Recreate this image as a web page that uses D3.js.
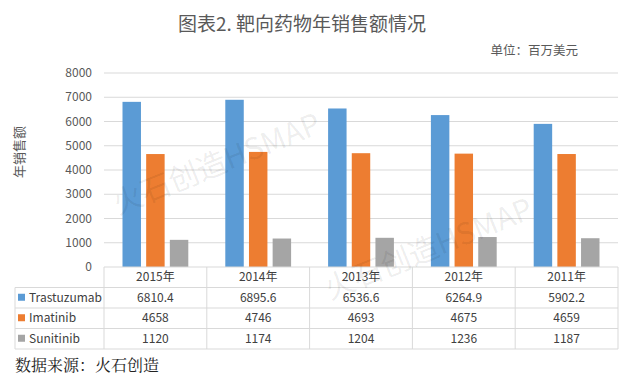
<!DOCTYPE html>
<html>
<head>
<meta charset="utf-8">
<script src="https://cdn.jsdelivr.net/npm/d3@7"></script>
<style>
  body { margin: 0; background: #fff; }
  text { font-family: "Noto Sans CJK SC", "Noto Sans", sans-serif; }
</style>
</head>
<body>
<div id="canvas"></div>
<script>
"use strict"

/* chart data */
let years = ["2015年", "2014年", "2013年", "2012年", "2011年"];
let seriesNames = ["Trastuzumab", "Imatinib", "Sunitinib"];
let trastuzumab = [6810.4, 6895.6, 6536.6, 6264.9, 5902.2];
let imatinib = [4658, 4746, 4693, 4675, 4659];
let sunitinib = [1120, 1174, 1204, 1236, 1187];
let tableLabels = [["6810.4", "6895.6", "6536.6", "6264.9", "5902.2"],
                   ["4658", "4746", "4693", "4675", "4659"],
                   ["1120", "1174", "1204", "1236", "1187"]];
let yTicks = [0, 1000, 2000, 3000, 4000, 5000, 6000, 7000, 8000];

let colors = ["#5B9BD5", "#ED7D31", "#A5A5A5"];
let seriesValues = [trastuzumab, imatinib, sunitinib];

/* canvas size and plot box */
let svgWidth = 640;
let svgHeight = 385;
let plotLeft = 104;
let plotRight = 618;
let plotTop = 73;
let plotBottom = 267;
let rowHeight = 20.5;
let tableLeft = 15;

let svg = d3.select("#canvas")
    .append("svg")
    .attr("width", svgWidth)
    .attr("height", svgHeight);

svg.append("rect")
    .attr("width", svgWidth)
    .attr("height", svgHeight)
    .attr("fill", "#fff");

/* scales */
let xScale = d3.scaleBand()
    .domain(years)
    .range([plotLeft, plotRight]);

let inner = d3.scaleBand()
    .domain(seriesNames)
    .range([18.5, xScale.bandwidth() - 18.5])
    .paddingInner(0.22);

let yScale = d3.scaleLinear()
    .domain([0, 8000])
    .range([plotBottom, plotTop]);

/* gridlines */
svg.append("g")
    .selectAll("line")
    .data(yTicks.slice(1))
    .join("line")
    .attr("x1", plotLeft)
    .attr("x2", plotRight)
    .attr("y1", d => yScale(d))
    .attr("y2", d => yScale(d))
    .attr("stroke", "#d9d9d9")
    .attr("stroke-width", 1);

/* y tick labels */
svg.append("g")
    .selectAll("text")
    .data(yTicks)
    .join("text")
    .attr("x", 92)
    .attr("y", d => yScale(d))
    .attr("dy", "0.35em")
    .attr("text-anchor", "end")
    .attr("font-size", 12)
    .attr("fill", "#595959")
    .text(d => d);

/* bars */
seriesNames.forEach(function (name, s) {
    svg.append("g")
        .selectAll("rect")
        .data(seriesValues[s])
        .join("rect")
        .attr("x", (d, i) => xScale(years[i]) + inner(name))
        .attr("y", d => yScale(d))
        .attr("width", inner.bandwidth())
        .attr("height", d => plotBottom - yScale(d))
        .attr("fill", colors[s]);
});

/* data table */
let tableBottom = plotBottom + rowHeight * 4;
let grid = svg.append("g")
    .attr("stroke", "#d9d9d9")
    .attr("stroke-width", 1)
    .attr("fill", "none");

// horizontal lines
for (let r = 0; r <= 4; r++) {
    grid.append("line")
        .attr("x1", r === 0 ? plotLeft : tableLeft)
        .attr("x2", plotRight)
        .attr("y1", plotBottom + r * rowHeight)
        .attr("y2", plotBottom + r * rowHeight);
}
// vertical lines
years.forEach(function (y) {
    grid.append("line")
        .attr("x1", xScale(y))
        .attr("x2", xScale(y))
        .attr("y1", plotBottom)
        .attr("y2", tableBottom);
});
grid.append("line")
    .attr("x1", plotRight).attr("x2", plotRight)
    .attr("y1", plotBottom).attr("y2", tableBottom);
grid.append("line")
    .attr("x1", tableLeft).attr("x2", tableLeft)
    .attr("y1", plotBottom + rowHeight).attr("y2", tableBottom);

// year header
svg.append("g")
    .selectAll("text")
    .data(years)
    .join("text")
    .attr("x", d => xScale(d) + xScale.bandwidth() / 2)
    .attr("y", plotBottom + rowHeight / 2)
    .attr("dy", "0.35em")
    .attr("text-anchor", "middle")
    .attr("font-size", 12)
    .attr("fill", "#404040")
    .text(d => d);

// series rows
seriesNames.forEach(function (name, s) {
    let rowY = plotBottom + rowHeight * (s + 1) + rowHeight / 2;

    svg.append("rect")
        .attr("x", 18)
        .attr("y", rowY - 4)
        .attr("width", 7)
        .attr("height", 7)
        .attr("fill", colors[s]);

    svg.append("text")
        .attr("x", 29)
        .attr("y", rowY)
        .attr("dy", "0.35em")
        .attr("font-size", 12)
        .attr("fill", "#404040")
        .text(name);

    svg.append("g")
        .selectAll("text")
        .data(tableLabels[s])
        .join("text")
        .attr("x", (d, i) => xScale(years[i]) + xScale.bandwidth() / 2)
        .attr("y", rowY)
        .attr("dy", "0.35em")
        .attr("text-anchor", "middle")
        .attr("font-size", 12)
        .attr("fill", "#404040")
        .text(d => d);
});

/* titles */
svg.append("text")
    .attr("x", 302)
    .attr("y", 31)
    .attr("text-anchor", "middle")
    .attr("font-size", 19)
    .attr("fill", "#595959")
    .text("图表2. 靶向药物年销售额情况");

svg.append("text")
    .attr("x", 578)
    .attr("y", 55)
    .attr("text-anchor", "end")
    .attr("font-size", 12.5)
    .attr("fill", "#595959")
    .text("单位：百万美元");

svg.append("text")
    .attr("transform", "translate(24,152) rotate(-90)")
    .attr("text-anchor", "middle")
    .attr("font-size", 13)
    .attr("fill", "#595959")
    .text("年销售额");

svg.append("text")
    .attr("x", 15)
    .attr("y", 371)
    .attr("font-size", 16)
    .attr("fill", "#222")
    .attr("style", "font-family: 'AR PL UKai CN', 'Noto Serif CJK SC', 'Noto Sans CJK SC', serif")
    .text("数据来源：火石创造");

/* faint watermark */
svg.append("text")
    .attr("transform", "translate(118,215) rotate(-22)")
    .attr("font-size", 30)
    .attr("fill", "#000")
    .attr("fill-opacity", 0.08)
    .text("火石创造HSMAP");

svg.append("text")
    .attr("transform", "translate(330,300) rotate(-22)")
    .attr("font-size", 30)
    .attr("fill", "#000")
    .attr("fill-opacity", 0.08)
    .text("火石创造HSMAP");
</script>
</body>
</html>
